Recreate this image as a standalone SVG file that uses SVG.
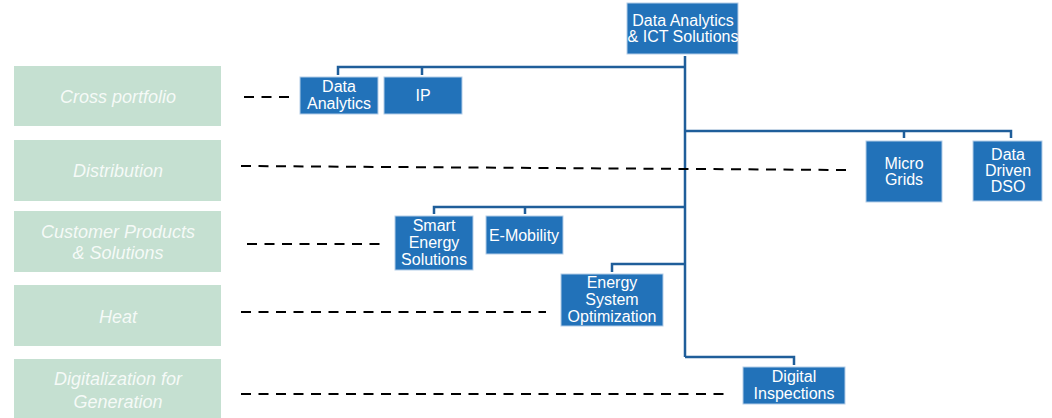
<svg xmlns="http://www.w3.org/2000/svg" width="1052" height="418" viewBox="0 0 1052 418">
<style>
.band{fill:#C5E0D1}
.bt{font-family:"Liberation Sans",Arial,sans-serif;font-style:italic;font-size:18px;fill:#FFFFFF;fill-opacity:0.85;text-anchor:middle}
.box{fill:#2272B9;stroke:#B3CDE8;stroke-width:1}
.nt{font-family:"Liberation Sans",Arial,sans-serif;font-size:16px;fill:#FFFFFF;text-anchor:middle}
.c{fill:none;stroke:#1F5E9A;stroke-width:2.5}
.d{fill:none;stroke:#000000;stroke-width:2;stroke-dasharray:10 7.5}
</style>
<rect width="1052" height="418" fill="#FFFFFF"/>
<g id="bands">
<g id="band-cross"><rect class="band" x="14" y="66" width="207" height="60"/><text class="bt" x="118" y="103">Cross portfolio</text></g>
<g id="band-distribution"><rect class="band" x="14" y="140" width="207" height="61"/><text class="bt" x="118" y="177">Distribution</text></g>
<g id="band-customer"><rect class="band" x="14" y="211" width="207" height="61"/><text class="bt" x="118" y="238">Customer Products</text><text class="bt" x="118" y="259">&amp; Solutions</text></g>
<g id="band-heat"><rect class="band" x="14" y="285" width="207" height="61"/><text class="bt" x="118" y="323">Heat</text></g>
<g id="band-generation"><rect class="band" x="14" y="359" width="207" height="59"/><text class="bt" x="118" y="385">Digitalization for</text><text class="bt" x="118" y="408">Generation</text></g>
</g>
<g id="connectors">
<path class="c" d="M685 56 V357" stroke-width="3"/>
<path class="c" d="M338 75 V67 H685 M422 67 V75"/>
<path class="c" d="M685 131 H1011 V138 M904 131 V138"/>
<path class="c" d="M434 214 V207 H685 M525 207 V214"/>
<path class="c" d="M612 272 V264 H685"/>
<path class="c" d="M685 357 H794 V365"/>
<path class="d" d="M244 97 H290"/>
<path class="d" d="M241 166 L846 170"/>
<path class="d" d="M247 244 H383"/>
<path class="d" d="M241 312 H546"/>
<path class="d" d="M241 394 H725"/>
</g>
<g id="n-root"><rect class="box" x="627" y="3" width="111" height="51"/><text class="nt" x="683" y="26">Data Analytics</text><text class="nt" x="683" y="42">&amp; ICT Solutions</text></g>
<g id="n-data-analytics"><rect class="box" x="300" y="77" width="78" height="37"/><text class="nt" x="339" y="92">Data</text><text class="nt" x="339" y="109">Analytics</text></g>
<g id="n-ip"><rect class="box" x="384" y="77" width="78" height="37"/><text class="nt" x="423" y="101">IP</text></g>
<g id="n-micro-grids"><rect class="box" x="866" y="141" width="76" height="61"/><text class="nt" x="904" y="169">Micro</text><text class="nt" x="904" y="185">Grids</text></g>
<g id="n-dso"><rect class="box" x="973" y="141" width="69" height="60"/><text class="nt" x="1008" y="160">Data</text><text class="nt" x="1008" y="176">Driven</text><text class="nt" x="1008" y="192">DSO</text></g>
<g id="n-smart-energy"><rect class="box" x="395" y="216" width="78" height="54"/><text class="nt" x="434" y="231">Smart</text><text class="nt" x="434" y="248">Energy</text><text class="nt" x="434" y="265">Solutions</text></g>
<g id="n-emobility"><rect class="box" x="486" y="216" width="77" height="38"/><text class="nt" x="524" y="241">E-Mobility</text></g>
<g id="n-eso"><rect class="box" x="561" y="274" width="102" height="52"/><text class="nt" x="612" y="288">Energy</text><text class="nt" x="612" y="305">System</text><text class="nt" x="612" y="322">Optimization</text></g>
<g id="n-digital-inspections"><rect class="box" x="743" y="367" width="102" height="37"/><text class="nt" x="794" y="382">Digital</text><text class="nt" x="794" y="399">Inspections</text></g>
</svg>
